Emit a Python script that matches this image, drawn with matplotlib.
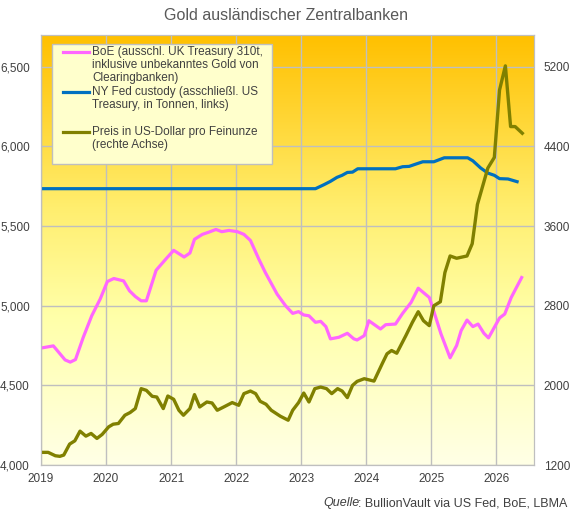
import matplotlib
matplotlib.use("Agg")
import matplotlib.pyplot as plt
import matplotlib.ticker as mticker
from matplotlib.colors import LinearSegmentedColormap
from matplotlib.lines import Line2D
from matplotlib.patches import Rectangle
import numpy as np

plt.rcParams["font.family"] = ["Liberation Sans", "DejaVu Sans"]

W, H = 572, 514
TEXT = "#404040"
GRID = "#BFBFBF"
COLORS = {"boe": "#FF66FF", "fed": "#0070C0", "gold": "#808000"}

# ── data (decimal years) ──────────────────────────────────────────────────────
boe_t = [2019.01, 2019.19, 2019.37, 2019.45, 2019.53, 2019.65, 2019.78, 2019.91,
         2020.02, 2020.12, 2020.27, 2020.36, 2020.45, 2020.54, 2020.62, 2020.77, 2020.93,
         2021.04, 2021.20, 2021.29, 2021.36, 2021.48, 2021.58, 2021.69, 2021.78, 2021.89,
         2022.02, 2022.12, 2022.22, 2022.35, 2022.45, 2022.63, 2022.76, 2022.87, 2022.96,
         2023.04, 2023.12, 2023.22, 2023.30, 2023.38, 2023.45, 2023.58, 2023.71, 2023.81, 2023.86, 2023.97,
         2024.04, 2024.22, 2024.30, 2024.45, 2024.56, 2024.69, 2024.80, 2024.97,
         2025.02, 2025.15, 2025.29, 2025.39, 2025.46, 2025.55, 2025.64, 2025.72, 2025.81, 2025.88,
         2026.05, 2026.13, 2026.23, 2026.39]
boe_v = [4735, 4748, 4660, 4646, 4662, 4802, 4937, 5042,
         5152, 5171, 5156, 5094, 5058, 5031, 5031, 5223, 5298,
         5348, 5306, 5331, 5417, 5448, 5462, 5479, 5465, 5473,
         5465, 5448, 5410, 5292, 5208, 5073, 5000, 4952, 4963,
         4942, 4937, 4896, 4902, 4869, 4792, 4802, 4827, 4792, 4785, 4812,
         4906, 4854, 4881, 4885, 4952, 5021, 5110, 5052,
         4990, 4823, 4673, 4750, 4844, 4910, 4869, 4885, 4827, 4798,
         4923, 4948, 5052, 5177]

fed_t = [2019.0, 2023.22, 2023.35, 2023.45, 2023.55, 2023.63, 2023.71, 2023.79, 2023.87,
         2024.45, 2024.56, 2024.66, 2024.76, 2024.87, 2025.04, 2025.20, 2025.56, 2025.64,
         2025.76, 2025.87, 2025.97, 2026.05, 2026.18, 2026.32]
fed_v = [5735, 5735, 5760, 5781, 5806, 5819, 5837, 5839, 5860,
         5860, 5873, 5875, 5889, 5904, 5904, 5929, 5929, 5910,
         5865, 5833, 5819, 5798, 5796, 5779]

gold_t = [2019.01, 2019.11, 2019.22, 2019.29, 2019.35, 2019.44, 2019.52, 2019.60, 2019.69, 2019.77, 2019.86, 2019.94,
          2020.04, 2020.11, 2020.19, 2020.29, 2020.37, 2020.45, 2020.54, 2020.62, 2020.71, 2020.78, 2020.88, 2020.95,
          2021.04, 2021.12, 2021.19, 2021.29, 2021.36, 2021.44, 2021.55, 2021.63, 2021.71, 2021.81, 2021.94,
          2022.04, 2022.12, 2022.22, 2022.30, 2022.37, 2022.46, 2022.54, 2022.68, 2022.80, 2022.87, 2022.96,
          2023.04, 2023.12, 2023.21, 2023.30, 2023.39, 2023.47, 2023.56, 2023.63, 2023.71, 2023.79, 2023.86, 2023.97,
          2024.12, 2024.25, 2024.32, 2024.39, 2024.47, 2024.61, 2024.71, 2024.80, 2024.88, 2024.97,
          2025.04, 2025.14, 2025.21, 2025.29, 2025.39, 2025.55, 2025.63, 2025.67, 2025.71, 2025.87, 2025.97,
          2026.05, 2026.14, 2026.22, 2026.29, 2026.40]
gold_v = [1327, 1327, 1293, 1287, 1300, 1410, 1443, 1540, 1490, 1517, 1467, 1507,
          1583, 1610, 1617, 1700, 1727, 1767, 1967, 1950, 1890, 1883, 1767, 1893,
          1860, 1750, 1700, 1767, 1907, 1783, 1833, 1823, 1750, 1783, 1827,
          1800, 1917, 1943, 1917, 1840, 1810, 1750, 1690, 1650, 1750, 1827,
          1923, 1833, 1967, 1983, 1967, 1917, 1967, 1943, 1877, 2000, 2040, 2067,
          2043, 2223, 2317, 2350, 2323, 2500, 2633, 2740, 2650, 2600,
          2800, 2840, 3133, 3300, 3277, 3300, 3423, 3617, 3817, 4183, 4290,
          4967, 5210, 4600, 4600, 4533]

years = list(range(2019, 2027))
left_ticks = [4000, 4500, 5000, 5500, 6000, 6500]
right_ticks = [1200, 2000, 2800, 3600, 4400, 5200]

legend_entries = [
    ("boe", ["BoE (ausschl. UK Treasury 310t,", "inklusive unbekanntes Gold von", "Clearingbanken)"]),
    ("fed", ["NY Fed custody (asschließl. US", "Treasury, in Tonnen, links)", ""]),
    ("gold", ["Preis in US-Dollar pro Feinunze", "(rechte Achse)"]),
]


def fx(x):
    return x / W


def fy(y):
    return 1 - y / H


fig = plt.figure(figsize=(W / 100, H / 100), dpi=100)
ax = fig.add_axes([fx(41), fy(465), (534 - 41) / W, (465 - 35) / H])

# background gradient (orange top -> pale cream bottom)
cmap = LinearSegmentedColormap.from_list(
    "bg", [(0.0, "#FFFFE6"), (0.35, "#FFFFA8"), (0.6, "#FFEE6E"), (1.0, "#FFC000")])
grad = np.linspace(0, 1, 256).reshape(-1, 1)
ax.imshow(grad, cmap=cmap, aspect="auto", origin="lower",
          extent=[0, 1, 0, 1], transform=ax.transAxes, zorder=0)

ax.set_xlim(2019, 2026.58)
ax.set_ylim(4000, 6700)
ax.set_xticks(years)
ax.set_yticks(left_ticks)
ax.yaxis.set_major_formatter(mticker.FuncFormatter(lambda v, p: f"{int(v):,}"))
ax.grid(True, color=GRID, linewidth=1, zorder=1)
ax.set_axisbelow(False)
ax.tick_params(length=0, labelsize=8.5, labelcolor=TEXT)
ax.tick_params(axis="y", pad=8)
ax.tick_params(axis="x", pad=6)
for s in ax.spines.values():
    s.set_color(GRID)

ax.plot(boe_t, boe_v, color=COLORS["boe"], linewidth=2.3, solid_joinstyle="round", zorder=3)
ax.plot(fed_t, fed_v, color=COLORS["fed"], linewidth=2.3, solid_joinstyle="round", zorder=3)

ax2 = ax.twinx()
ax2.set_ylim(1200, 5520)
ax2.set_yticks(right_ticks)
ax2.tick_params(length=0, labelsize=8.5, labelcolor=TEXT, pad=7)
for s in ax2.spines.values():
    s.set_color(GRID)
ax2.plot(gold_t, gold_v, color=COLORS["gold"], linewidth=2.4, solid_joinstyle="round")

# title
fig.text(0.5, fy(15), "Gold ausländischer Zentralbanken", ha="center", va="center",
         fontsize=11.5, color="#595959")

# legend box, drawn by hand so the handles sit on the first text line
fig.add_artist(Rectangle((fx(52), fy(164)), (272 - 52) / W, (164 - 44) / H,
                         transform=fig.transFigure, facecolor="#FFFFCC",
                         edgecolor=GRID, linewidth=1, zorder=5))
y = 51.7
for key, lines in legend_entries:
    fig.add_artist(Line2D([fx(63), fx(89)], [fy(y), fy(y)], transform=fig.transFigure,
                          color=COLORS[key], linewidth=2.3, zorder=6))
    for line in lines:
        fig.text(fx(92), fy(y), line, ha="left", va="center", fontsize=8.5,
                 color=TEXT, zorder=6)
        y += 13.3

# source
src = fig.text(fx(567), fy(503), ": BullionVault via US Fed, BoE, LBMA", ha="right",
               va="center", fontsize=9, color=TEXT)
ax.annotate("Quelle", xy=(0, 0.5), xycoords=src, xytext=(1.8, 0),
            textcoords="offset points", ha="right", va="center",
            fontsize=9, color=TEXT, style="italic", annotation_clip=False)

fig.savefig("out.png", dpi=100)
